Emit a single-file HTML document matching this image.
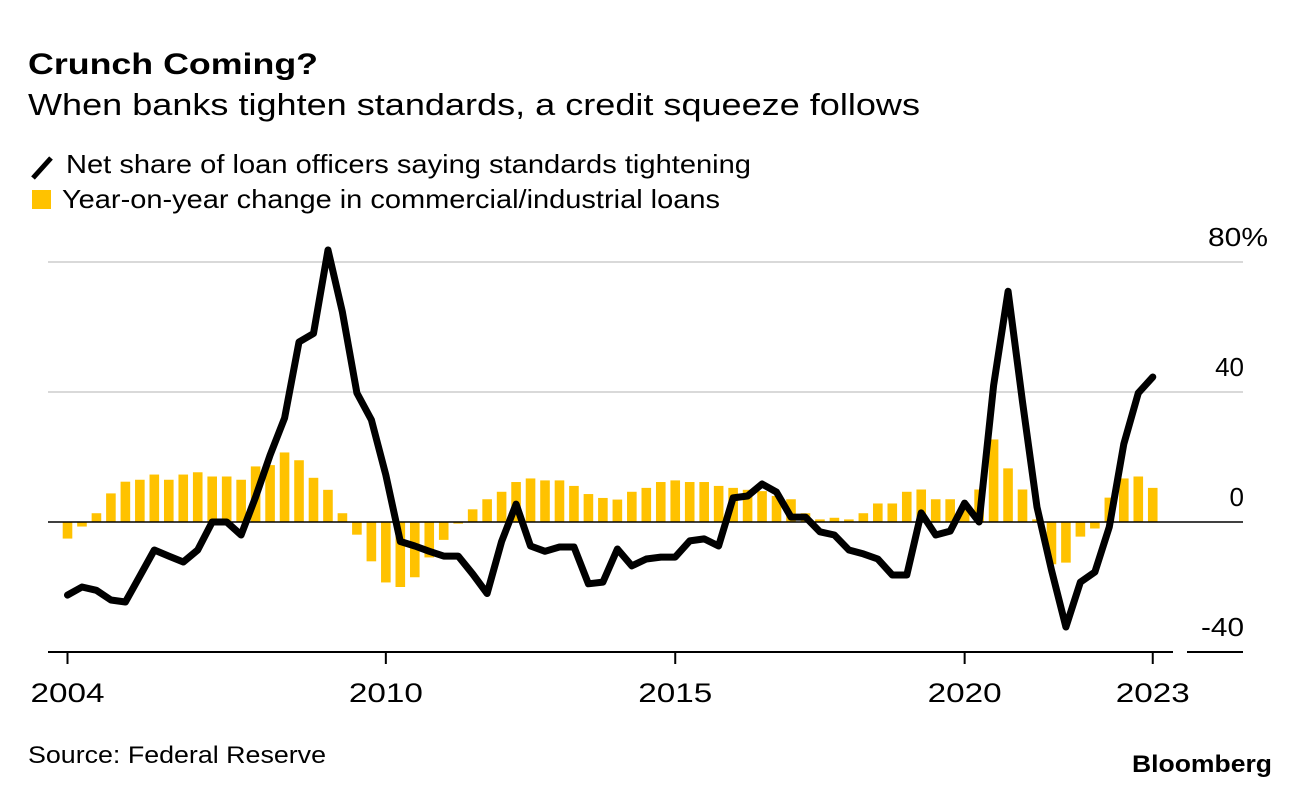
<!DOCTYPE html>
<html><head><meta charset="utf-8"><style>
html,body{margin:0;padding:0;background:#fff;width:1296px;height:796px;overflow:hidden}
svg{display:block;font-family:"Liberation Sans",Arial,sans-serif}
</style></head><body>
<svg id="chart" width="1296" height="796" viewBox="0 0 1296 796">
<text x="28" y="74" font-size="30" font-weight="bold" fill="#000" textLength="290" lengthAdjust="spacingAndGlyphs">Crunch Coming?</text>
<text x="28" y="115" font-size="31" fill="#000" textLength="892" lengthAdjust="spacingAndGlyphs">When banks tighten standards, a credit squeeze follows</text>
<g>
<line x1="33" y1="178" x2="51" y2="158" stroke="#000" stroke-width="5"/>
<text x="66" y="173" font-size="26" fill="#000" textLength="685" lengthAdjust="spacingAndGlyphs">Net share of loan officers saying standards tightening</text>
<rect x="32" y="190" width="19" height="19" fill="#ffc200"/>
<text x="62" y="208" font-size="26" fill="#000" textLength="658" lengthAdjust="spacingAndGlyphs">Year-on-year change in commercial/industrial loans</text>
</g>
<g id="grid"></g>
<g id="bars"></g>
<g id="axes"></g>
<path id="line" fill="none" stroke="#000" stroke-width="7" stroke-linejoin="round" stroke-linecap="round"/>
<text x="28" y="763" font-size="24" fill="#000" textLength="298" lengthAdjust="spacingAndGlyphs">Source: Federal Reserve</text>
<text x="1132" y="772" font-size="24" font-weight="bold" fill="#000" textLength="140" lengthAdjust="spacingAndGlyphs">Bloomberg</text>
</svg>
<script>
const standards = [-22.5,-20,-21,-24,-24.6,-16.6,-8.6,-10.5,-12.3,-8.6,0,0,-4,7.7,20.6,32,55.4,58,83.7,64.6,39.7,31.4,14.5,-6,-7.4,-9,-10.5,-10.5,-16,-22,-6,5.5,-7.4,-9,-7.7,-7.7,-19,-18.5,-8.3,-13.5,-11.4,-10.8,-10.8,-5.8,-5.2,-7.4,7.4,8,11.7,9.2,1.5,1.5,-3,-4,-8.6,-9.8,-11.4,-16.3,-16.3,2.8,-4,-2.8,5.8,0,42,71,37,4.6,-14.8,-32.3,-18.5,-15.4,-1.5,24,39.7,44.6];
const loans = [-5.1,-1.4,2.7,8.8,12.4,13,14.6,13,14.6,15.3,14,14,13,17.1,17.5,21.4,19,13.6,9.9,2.7,-3.9,-12.1,-18.6,-20,-17,-10.9,-5.5,-0.5,3.9,7,9.3,12.3,13.4,12.8,12.8,11.1,8.6,7.4,6.9,9.3,10.5,12.3,12.8,12.3,12.3,11.1,10.5,9.9,9.5,8,7,2.7,0.8,1.3,0.8,2.7,5.7,5.7,9.3,10,7,7,4,10,25.4,16.5,10,0.8,-13,-12.5,-4.5,-2,7.5,13.4,14,10.5];
const yTicks = [80,40,0,-40];
const yTickLabels = ["80%","40","0","-40"];
const xTickIndex = [0,22,42,62,75];
const xTickLabels = ["2004","2010","2015","2020","2023"];

const NS="http://www.w3.org/2000/svg";
const y = v => 522 - v*3.25;
const x = i => 67.5 + i*14.47;
function mk(tag, attrs, parent){const e=document.createElementNS(NS,tag);for(const k in attrs)e.setAttribute(k,attrs[k]);parent.appendChild(e);return e;}
const grid=document.getElementById('grid'), bars=document.getElementById('bars'), axes=document.getElementById('axes');
yTicks.forEach((t,k)=>{
  if(t>0){const g=mk('line',{x1:48,x2:1243,y1:y(t),y2:y(t),stroke:'#d9d9d9','stroke-width':2},grid);
    
    }
  const lab=yTickLabels[k];
  const pct=lab.endsWith('%');
  const attrs={x:pct?1208:1244,y:y(t)-16,'font-size':26,fill:'#000','text-anchor':pct?'start':'end'};
  if(pct){attrs.textLength=60;attrs.lengthAdjust='spacingAndGlyphs';}
  if(lab==='-40'){attrs.textLength=43;attrs.lengthAdjust='spacingAndGlyphs';}
  const tx=mk('text',attrs,axes);
  tx.textContent=lab;
  
  
});
loans.forEach((v,i)=>{
  const r=mk('rect',{x:x(i)-4.8,y:Math.min(y(v),y(0)),width:9.6,height:Math.abs(y(v)-y(0)),fill:'#ffc200'},bars);
  
  
});
const z=mk('line',{x1:48,x2:1243,y1:y(0),y2:y(0),stroke:'#000','stroke-width':1.5},axes);


const b1=mk('line',{x1:48,x2:1173,y1:652,y2:652,stroke:'#000','stroke-width':2},axes);


const b2=mk('line',{x1:1187,x2:1243,y1:652,y2:652,stroke:'#000','stroke-width':2},axes);


xTickIndex.forEach((idx,k)=>{
  const px=x(idx);
  const t=mk('line',{x1:px,x2:px,y1:652,y2:664,stroke:'#000','stroke-width':2},axes);
  
  
  const tx=mk('text',{x:px,y:702,'font-size':27,fill:'#000','text-anchor':'middle',textLength:74,lengthAdjust:'spacingAndGlyphs'},axes);
  tx.textContent=xTickLabels[k];
  
  
});
document.getElementById('line').setAttribute('d',standards.map((v,i)=>(i?'L':'M')+x(i).toFixed(1)+','+y(v).toFixed(1)).join(' '));
</script>
</body></html>
